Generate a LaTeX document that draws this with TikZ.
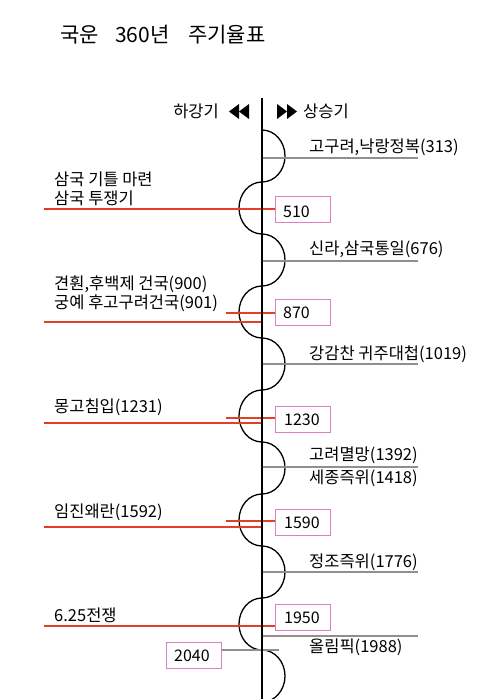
\documentclass[tikz,border=0pt]{standalone}
\usepackage{fontspec}
\setmainfont{Noto Sans CJK KR}
\definecolor{evred}{RGB}{228,62,40}
\definecolor{evgray}{RGB}{150,140,140}
\definecolor{boxpink}{RGB}{218,128,188}
\begin{document}
\begin{tikzpicture}[x=1pt,y=-1pt,
  lbl/.style={anchor=base west,inner sep=0pt,font=\fontsize{16.5}{16.5}\selectfont},
  ttl/.style={anchor=base west,inner sep=0pt,font=\fontsize{21}{21}\selectfont},
  yearbox/.style={draw=boxpink,line width=1pt,minimum width=55pt,minimum height=26pt,inner sep=0pt},
  boxnum/.style={anchor=base west,inner sep=0pt,font=\fontsize{16}{16}\selectfont},
  upline/.style={draw=evgray,line width=1.2pt},
  downline/.style={draw=evred,line width=1.2pt},
  spine/.style={line width=2.4pt},
  bump/.style={line width=1.3pt},
  tri/.style={fill=black}]
\useasboundingbox (0,0) rectangle (500,699);

% title
\node[ttl] (t1) at (60,42) {국운};
\node[ttl] (t2) at (115,42) {360년};
\node[ttl] (t3) at (188,42) {주기율표};

% header
\node[anchor=base east,inner sep=0pt,font=\fontsize{16.5}{16.5}\selectfont] (down) at (219,117) {하강기};
\node[lbl] (up) at (303,117) {상승기};
\fill[tri] (229,111.5) -- (239,104) -- (239,119) -- cycle;
\fill[tri] (239,111.5) -- (249,104) -- (249,119) -- cycle;
\fill[tri] (297,111.5) -- (287,104) -- (287,119) -- cycle;
\fill[tri] (287,111.5) -- (277,104) -- (277,119) -- cycle;

% spine
\coordinate (top) at (262,98);
\coordinate (bot) at (262,699);

% wavy curve
\draw[bump] (262,130)
  \foreach \i/\s in {0/1,1/-1,2/1,3/-1,4/1,5/-1,6/1,7/-1,8/1,9/-1,10/1} {
    .. controls ({262+12.7*\s},{130+52*\i}) and ({262+23*\s},{156+52*\i-14.36}) .. ({262+23*\s},{156+52*\i})
    .. controls ({262+23*\s},{156+52*\i+14.36}) and ({262+12.7*\s},{182+52*\i}) .. (262,{182+52*\i})
  };

% year boxes
\node[yearbox] (b510) at (302.5,209) {};
\node[yearbox] (b870) at (302.5,312) {};
\node[yearbox] (b1230) at (302.5,419) {};
\node[yearbox] (b1590) at (302.5,522) {};
\node[yearbox] (b1950) at (302.5,617) {};
\node[yearbox] (b2040) at (193.5,655) {};
\node[boxnum] at (283,217) {510};
\node[boxnum] at (284,425) {1230};
\node[boxnum] at (283,318) {870};
\node[boxnum] at (284,528) {1590};
\node[boxnum] at (284,623) {1950};
\node[boxnum] at (174,661) {2040};

% right side (rise) events
\foreach \n/\y in {a/158,b/261,c/364,d/467,e/572,f/636} {
  \coordinate (s\n) at (262,\y);
  \coordinate (e\n) at (418,\y);
  \draw[upline] (s\n) -- (e\n);
}
\node[lbl] (l313) at (309,152) {고구려,낙랑정복(313)};
\node[lbl] (l676) at (309,254) {신라,삼국통일(676)};
\node[lbl] (l1019) at (309,359) {강감찬 귀주대첩(1019)};
\node[lbl] (l1392) at (309,460) {고려멸망(1392)};
\node[lbl] (l1418) at (309,483) {세종즉위(1418)};
\node[lbl] (l1776) at (309,567) {정조즉위(1776)};
\node[lbl] (l1988) at (309,652) {올림픽(1988)};

% left side (decline) events
\coordinate (r510) at (44,209);
\draw[downline] (r510) -- (b510.west |- r510);
\coordinate (r870) at (44,322); \coordinate (q870) at (262,322);
\draw[downline] (r870) -- (q870);
\coordinate (p870) at (226,313);
\draw[downline] (p870) -- (b870.west |- p870);
\coordinate (r1230) at (44,423); \coordinate (q1230) at (262,423);
\draw[downline] (r1230) -- (q1230);
\coordinate (p1230) at (226,418);
\draw[downline] (p1230) -- (b1230.west |- p1230);
\coordinate (r1590) at (44,527); \coordinate (q1590) at (262,527);
\draw[downline] (r1590) -- (q1590);
\coordinate (p1590) at (226,521);
\draw[downline] (p1590) -- (b1590.west |- p1590);
\coordinate (r1950) at (44,626);
\draw[downline] (r1950) -- (b1950.west |- r1950);
\coordinate (g2040) at (279,650);
\draw[upline] (b2040.east |- g2040) -- (g2040);

\node[lbl] (l510a) at (54,185) {삼국 기틀 마련};
\node[lbl] (l510b) at (54,204) {삼국 투쟁기};
\node[lbl] (l900) at (54,289) {견훤,후백제 건국(900)};
\node[lbl] (l901) at (54,308) {궁예 후고구려건국(901)};
\node[lbl] (l1231) at (54,412) {몽고침입(1231)};
\node[lbl] (l1592) at (54,517) {임진왜란(1592)};
\node[lbl] (l625) at (54,621) {6.25전쟁};

\draw[spine] (top) -- (bot);
\end{tikzpicture}
\end{document}
